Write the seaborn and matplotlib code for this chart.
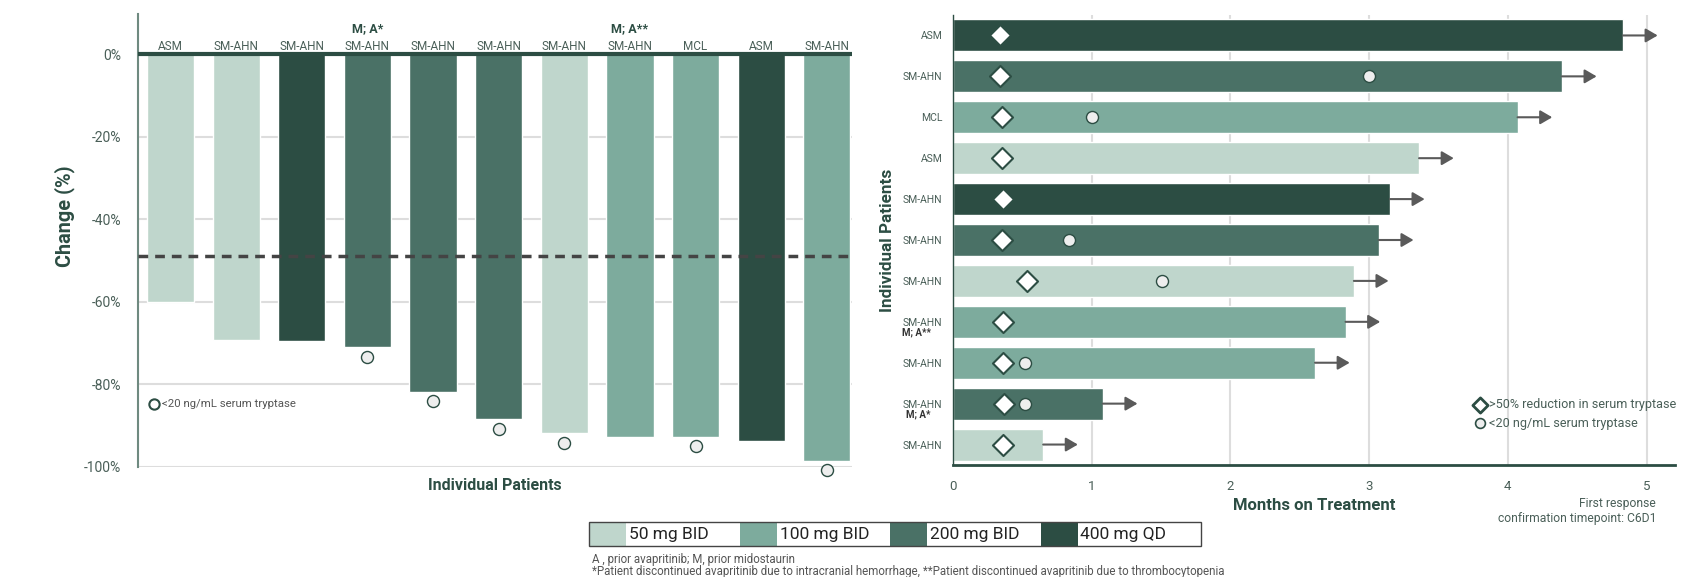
import numpy as np
import pandas as pd
import matplotlib
matplotlib.use("Agg")
import matplotlib.pyplot as plt
import seaborn as sns
from matplotlib.patches import Rectangle

# ---- waterfall: best change in serum tryptase ----
wf_subtype = ["ASM", "SM-AHN", "SM-AHN", "SM-AHN", "SM-AHN", "SM-AHN",
              "SM-AHN", "SM-AHN", "MCL", "ASM", "SM-AHN"]
wf_note = ["", "", "", "M; A*", "", "", "", "M; A**", "", "", ""]
wf_dose = ["50 mg BID", "50 mg BID", "400 mg QD", "200 mg BID", "200 mg BID",
           "200 mg BID", "50 mg BID", "100 mg BID", "100 mg BID", "400 mg QD",
           "100 mg BID"]
wf_change = [-60.0, -69.2, -69.5, -70.9, -81.8, -88.4, -91.8, -92.7, -92.7,
             -93.7, -98.5]
wf_below20 = [False, False, False, True, True, True, True, False, True,
              False, True]
response_threshold = -49

# ---- swimmer: months on treatment ----
sw_subtype = ["ASM", "SM-AHN", "MCL", "ASM", "SM-AHN", "SM-AHN", "SM-AHN",
              "SM-AHN", "SM-AHN", "SM-AHN", "SM-AHN"]
sw_note = ["", "", "", "", "", "", "", "M; A**", "", "M; A*", ""]
sw_dose = ["400 mg QD", "200 mg BID", "100 mg BID", "50 mg BID", "400 mg QD",
           "200 mg BID", "50 mg BID", "100 mg BID", "100 mg BID", "200 mg BID",
           "50 mg BID"]
sw_months = [4.83, 4.39, 4.07, 3.36, 3.15, 3.07, 2.89, 2.83, 2.61, 1.08, 0.65]
sw_reduction50 = [0.34, 0.34, 0.355, 0.355, 0.36, 0.355, 0.53, 0.36, 0.36,
                  0.365, 0.36]
sw_below20 = [np.nan, 3.0, 1.0, np.nan, np.nan, 0.835, 1.51, np.nan, 0.52,
              0.52, np.nan]

doses = ["50 mg BID", "100 mg BID", "200 mg BID", "400 mg QD"]
dose_colors = ["#BFD6CC", "#7DAB9D", "#4A7166", "#2C4D43"]
palette = dict(zip(doses, dose_colors))

DARK = "#2C4D43"
TXT = "#4A5F58"
GRID = "#DDDDDD"

sns.set_style("white")
plt.rcParams["font.family"] = ["Roboto", "DejaVu Sans"]

W, H = 1685, 577
fig = plt.figure(figsize=(W / 100, H / 100), dpi=100)


def fx(px):
    return px / W


def fy(py):
    return 1 - py / H


# ---------------- waterfall ----------------
axL = fig.add_axes([fx(137.7), fy(466.7), fx(714), (466.7 - 14) / H])
wf = pd.DataFrame({"pid": [f"W{i}" for i in range(len(wf_change))],
                   "change": wf_change, "dose": wf_dose})
sns.barplot(data=wf, x="pid", y="change", hue="dose", hue_order=doses,
            palette=palette, dodge=False, width=0.72, saturation=1,
            legend=False, ax=axL, zorder=2)
axL.set_xlim(-0.5, 10.38)
axL.set_ylim(-100, 9.7)
axL.set_yticks([0, -20, -40, -60, -80, -100])
axL.set_yticklabels(["0%", "-20%", "-40%", "-60%", "-80%", "-100%"])
axL.tick_params(axis="y", length=0, pad=12, labelsize=10, labelcolor=TXT)
axL.set_xticks([])
axL.set_xlabel("")
axL.yaxis.grid(True, color=GRID, lw=1.5, zorder=0)
axL.set_axisbelow(True)
for s in ["top", "right", "bottom"]:
    axL.spines[s].set_visible(False)
axL.spines["left"].set_color("#6F8A80")
axL.spines["left"].set_linewidth(1.5)
axL.axhline(0, color=DARK, lw=3, zorder=3)
axL.axhline(response_threshold, color="#444444", lw=2.5,
            linestyle=(0, (2.8, 2.0)), zorder=4)

xs = np.arange(len(wf_change))
for i, (s, n) in enumerate(zip(wf_subtype, wf_note)):
    axL.text(i, 0.9, s, ha="center", va="baseline", fontsize=8.5, color=TXT)
    if n:
        axL.text(i, 5.3, n, ha="center", va="baseline", fontsize=9,
                 fontweight="bold", color=DARK)
mask = np.array(wf_below20)
axL.scatter(xs[mask], np.array(wf_change)[mask] - 2.4, s=75, marker="o",
            facecolor="#EEEEEE", edgecolor=DARK, lw=1, zorder=5, clip_on=False)

axL.scatter([-0.25], [-84.8], s=55, marker="o", facecolor="white",
            edgecolor=DARK, lw=1.5, zorder=5)
axL.text(-0.13, -84.8, "<20 ng/mL serum tryptase", va="center", ha="left",
         fontsize=8.2, color="#555555")

axL.set_ylabel("Change (%)", fontsize=14.3, fontweight="bold", color=DARK,
               va="center")
axL.yaxis.set_label_coords(-0.1025, 0.554)
fig.text(fx(494.7), fy(485), "Individual Patients", ha="center", va="center",
         fontsize=11.5, fontweight="bold", color=DARK)

# ---------------- swimmer ----------------
axR = fig.add_axes([fx(953), fy(465), fx(722), 450 / H])
sw = pd.DataFrame({"pid": [f"S{i}" for i in range(len(sw_months))],
                   "months": sw_months, "dose": sw_dose})
sns.barplot(data=sw, x="months", y="pid", hue="dose", hue_order=doses,
            palette=palette, dodge=False, width=0.78, saturation=1,
            orient="h", legend=False, ax=axR, zorder=2)
axR.set_xlim(0, 5.205)
axR.set_ylim(10.5, -0.5)
axR.set_xticks([0, 1, 2, 3, 4, 5])
axR.set_xticklabels(["0", "1", "2", "3", "4", "5"])
axR.tick_params(axis="x", length=0, pad=11, labelsize=9.5, labelcolor=TXT)
rows = np.arange(len(sw_months))
axR.set_yticks(rows)
axR.set_yticklabels(sw_subtype)
axR.set_yticks(np.arange(-0.5, len(sw_months) + 0.5, 1), minor=True)
axR.tick_params(axis="y", which="major", length=0, pad=7.5, labelsize=7.5,
                labelcolor=TXT)
axR.tick_params(axis="y", which="minor", length=3.5, width=1, color=DARK,
                direction="out")
axR.xaxis.grid(True, color=GRID, lw=1.5, zorder=0)
axR.set_axisbelow(True)
for s in ["top", "right"]:
    axR.spines[s].set_visible(False)
axR.spines["left"].set_color(DARK)
axR.spines["left"].set_linewidth(1)
axR.spines["bottom"].set_color(DARK)
axR.spines["bottom"].set_linewidth(2)

for i, n in enumerate(sw_note):
    if n:
        axR.annotate(n, xy=(0, i), xycoords=axR.get_yaxis_transform(),
                     xytext=(-16, -7.8), textcoords="offset points",
                     ha="right", va="center", fontsize=7,
                     fontweight="bold", color="#333333")

for i, m in enumerate(sw_months):
    axR.annotate("", xy=(m + 0.25, i), xytext=(m, i),
                 arrowprops=dict(arrowstyle="-|>,head_length=0.6,head_width=0.35",
                                 color="#5A5A5A", lw=1.5, mutation_scale=12,
                                 shrinkA=0, shrinkB=0), zorder=3,
                 annotation_clip=False)

axR.scatter(sw_reduction50, rows, s=115, marker="D", facecolor="white",
            edgecolor=DARK, lw=1.5, zorder=5)
b20 = np.array(sw_below20)
ok = ~np.isnan(b20)
axR.scatter(b20[ok], rows[ok], s=75, marker="o", facecolor="#EEEEEE",
            edgecolor=DARK, lw=1, zorder=5)

axR.scatter([3.80], [9.03], s=60, marker="D", facecolor="white",
            edgecolor=DARK, lw=2, zorder=5)
axR.text(3.865, 9.03, ">50% reduction in serum tryptase", va="center",
         ha="left", fontsize=9.1, color=TXT)
axR.scatter([3.80], [9.48], s=50, marker="o", facecolor="#EEEEEE",
            edgecolor=DARK, lw=1.2, zorder=5)
axR.text(3.865, 9.48, "<20 ng/mL serum tryptase", va="center", ha="left",
         fontsize=9.1, color=TXT)

axR.set_ylabel("Individual Patients", fontsize=12.3, fontweight="bold",
               color=DARK, va="center")
axR.yaxis.set_label_coords(-0.0914, 0.5)
axR.set_xlabel("Months on Treatment", fontsize=12, fontweight="bold",
               color=DARK, va="center")
axR.xaxis.set_label_coords(0.5, -0.091)

fig.text(fx(1656), fy(503), "First response", ha="right", va="center",
         fontsize=8.7, color=TXT)
fig.text(fx(1656), fy(518.5), "confirmation timepoint: C6D1", ha="right",
         va="center", fontsize=8.7, color=TXT)

# ---------------- dose legend ----------------
lx0, ly0, lw_, lh = 589, 522, 612, 24
seg = 150.5
patch_w = 37
for k, (d, c) in enumerate(zip(doses, dose_colors)):
    x0 = lx0 + k * seg
    fig.add_artist(Rectangle((fx(x0), fy(ly0 + lh)), fx(patch_w), lh / H,
                             transform=fig.transFigure, facecolor=c,
                             edgecolor="none"))
    fig.text(fx(x0 + patch_w + 3), fy(ly0 + lh / 2), d, ha="left",
             va="center", fontsize=12.5, color="#222222")
fig.add_artist(Rectangle((fx(lx0), fy(ly0 + lh)), fx(lw_), lh / H,
                         transform=fig.transFigure, facecolor="none",
                         edgecolor="#444444", lw=1))

fig.text(fx(592), fy(559), "A , prior avapritinib; M, prior midostaurin",
         ha="left", va="center", fontsize=8.3, color="#555555")
fig.text(fx(592), fy(572),
         "*Patient discontinued avapritinib due to intracranial hemorrhage, "
         "**Patient discontinued avapritinib due to thrombocytopenia",
         ha="left", va="center", fontsize=8.3, color="#555555")

fig.savefig("out.png", dpi=100)
